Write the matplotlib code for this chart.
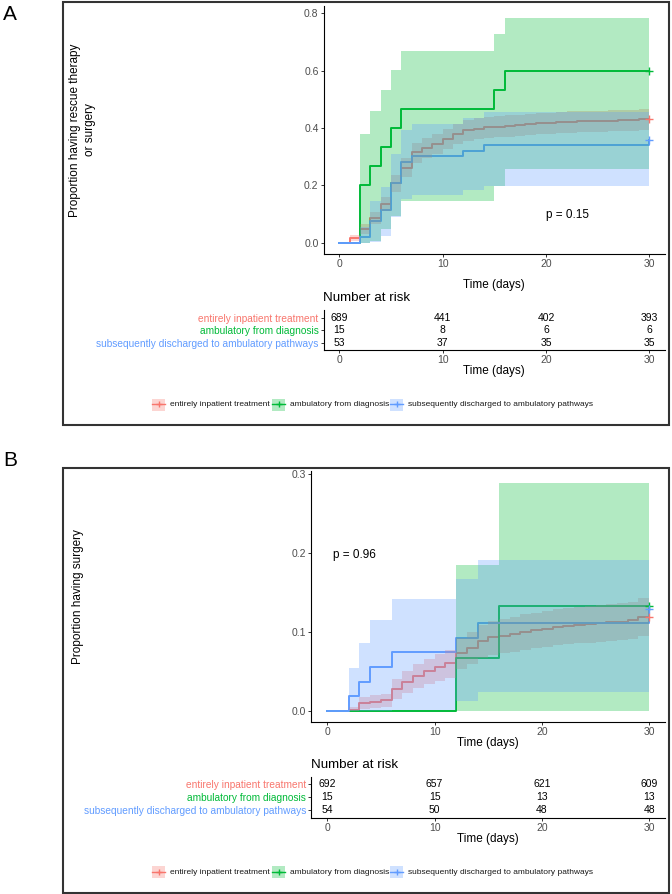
import matplotlib
matplotlib.use('Agg')
import matplotlib.pyplot as plt
from matplotlib.patches import Rectangle
from matplotlib.lines import Line2D

plt.rcParams['font.family'] = ['Liberation Sans', 'DejaVu Sans']

# ---------------- data ----------------
GROUPS = ['entirely inpatient treatment', 'ambulatory from diagnosis',
          'subsequently discharged to ambulatory pathways']
COLORS = ['#F8766D', '#00BA38', '#619CFF']
RISK_TIMES = [0, 10, 20, 30]

# Panel A: rescue therapy or surgery (cumulative incidence, lower CI, upper CI)
A_red_t = [0, 1, 2, 3, 4, 5, 6, 7, 8, 9, 10, 11, 12, 13, 14, 15, 16, 17, 18, 19,
           20, 21, 22, 23, 24, 25, 26, 27, 28, 29]
A_red_v = [0, 0.017, 0.048, 0.085, 0.135, 0.208, 0.262, 0.315, 0.330, 0.345,
           0.362, 0.380, 0.392, 0.398, 0.402, 0.405, 0.408, 0.410, 0.413, 0.416,
           0.418, 0.420, 0.422, 0.423, 0.424, 0.425, 0.426, 0.427, 0.428, 0.430]
A_red_lo = [0, 0.0073, 0.0319, 0.0639, 0.1091, 0.1771, 0.2284, 0.2794, 0.2940, 0.3085,
            0.3251, 0.3427, 0.3544, 0.3603, 0.3642, 0.3672, 0.3701, 0.3721, 0.3751, 0.3780,
            0.3800, 0.3820, 0.3839, 0.3849, 0.3859, 0.3869, 0.3879, 0.3889, 0.3899, 0.3918]
A_red_hi = [0, 0.0266, 0.0638, 0.1056, 0.1602, 0.2377, 0.2941, 0.3488, 0.3642, 0.3796,
            0.3969, 0.4152, 0.4274, 0.4335, 0.4375, 0.4405, 0.4436, 0.4456, 0.4486, 0.4517,
            0.4537, 0.4557, 0.4577, 0.4587, 0.4597, 0.4607, 0.4617, 0.4627, 0.4637, 0.4658]

A_green_t = [0, 2, 3, 4, 5, 6, 15, 16]
A_green_v = [0, 0.200, 0.267, 0.333, 0.400, 0.467, 0.533, 0.600]
A_green_lo = [0, 0, 0.005, 0.047, 0.093, 0.144, 0.198, 0.257]
A_green_hi = [0, 0.379, 0.460, 0.534, 0.603, 0.668, 0.728, 0.785]

A_blue_t = [0, 2, 3, 4, 5, 6, 7, 12, 14, 30]
A_blue_v = [0, 0.019, 0.075, 0.113, 0.208, 0.283, 0.302, 0.321, 0.340, 0.358]
A_blue_lo = [0, 0, 0.0015, 0.0237, 0.0905, 0.1509, 0.1667, 0.1827, 0.1990, 0.2155]
A_blue_hi = [0, 0.0548, 0.1439, 0.1946, 0.3095, 0.3946, 0.4152, 0.4355, 0.4556, 0.4754]

A_risk_red = [689, 441, 402, 393]
A_risk_green = [15, 8, 6, 6]
A_risk_blue = [53, 37, 35, 35]

# Panel B: surgery
B_red_t = [0, 2, 3, 4, 5, 6, 7, 8, 9, 10, 11, 12, 13, 14, 15, 16, 17, 18, 19,
           20, 21, 22, 23, 24, 25, 26, 27, 28, 29]
B_red_v = [0, 0.0015, 0.0100, 0.0115, 0.0130, 0.0275, 0.0360, 0.0440, 0.0500, 0.0550,
           0.0600, 0.0730, 0.0800, 0.0880, 0.0930, 0.0950, 0.0970, 0.1000, 0.1020, 0.1040,
           0.1060, 0.1080, 0.1090, 0.1100, 0.1110, 0.1120, 0.1130, 0.1150, 0.1190]
B_red_lo = [0, 0, 0.0026, 0.0035, 0.0045, 0.0152, 0.0220, 0.0286, 0.0336, 0.0379,
            0.0421, 0.0534, 0.0596, 0.0666, 0.0711, 0.0729, 0.0747, 0.0774, 0.0792, 0.0810,
            0.0828, 0.0846, 0.0855, 0.0864, 0.0873, 0.0882, 0.0891, 0.0909, 0.0945]
B_red_hi = [0, 0.0044, 0.0174, 0.0194, 0.0214, 0.0396, 0.0498, 0.0592, 0.0661, 0.0718,
            0.0775, 0.0922, 0.1000, 0.1089, 0.1144, 0.1166, 0.1188, 0.1221, 0.1243, 0.1265,
            0.1287, 0.1308, 0.1319, 0.1330, 0.1341, 0.1352, 0.1363, 0.1385, 0.1428]

B_green_t = [0, 12, 16]
B_green_v = [0, 0.0667, 0.1333]
B_green_lo = [0, 0, 0]
B_green_hi = [0, 0.1847, 0.2894]

B_blue_t = [0, 2, 3, 4, 6, 12, 14, 30]
B_blue_v = [0, 0.0185, 0.0370, 0.0556, 0.0741, 0.0926, 0.1111, 0.1296]
B_blue_lo = [0, 0, 0, 0, 0.0015, 0.0119, 0.0232, 0.0353]
B_blue_hi = [0, 0.0538, 0.0861, 0.1147, 0.1414, 0.1667, 0.1911, 0.2148]

B_risk_red = [692, 657, 621, 609]
B_risk_green = [15, 15, 13, 13]
B_risk_blue = [54, 50, 48, 48]

A_ylabel = 'Proportion having rescue therapy\nor surgery'
B_ylabel = 'Proportion having surgery'
A_yticks = [0.0, 0.2, 0.4, 0.6, 0.8]
B_yticks = [0.0, 0.1, 0.2, 0.3]
A_pval = 'p = 0.15'
B_pval = 'p = 0.96'

# ---------------- layout helpers ----------------
W, H = 672, 894
fig = plt.figure(figsize=(W / 100, H / 100), dpi=100)


def fx(x):
    return x / W


def fy(y):
    return 1 - y / H


def add_axes(l, r, t, b):
    return fig.add_axes([fx(l), fy(b), (r - l) / W, (b - t) / H])


TICK_COL = '#333333'
LAB_COL = '#4D4D4D'


def style_axes(ax):
    for s in ['top', 'right']:
        ax.spines[s].set_visible(False)
    for s in ['left', 'bottom']:
        ax.spines[s].set_linewidth(0.8)
        ax.spines[s].set_color('black')
    ax.tick_params(length=2.3, width=0.7, color=TICK_COL, labelsize=7.5,
                   labelcolor=LAB_COL, pad=1.5)
    ax.set_xlim(-1.5, 31.5)
    ax.set_xticks(RISK_TIMES)
    ax.patch.set_alpha(0)


def draw_main(ax, curves, ylim, yticks, pval, pxy, pha):
    style_axes(ax)
    for (t, v, lo, hi), c in zip(curves, COLORS):
        te = list(t) + [30]
        ax.step(te, list(v) + [v[-1]], where='post', color=c, lw=1.4, zorder=2)
    for (t, v, lo, hi), c in zip(curves, COLORS):
        ax.plot([30], [v[-1]], marker='+', color=c, ms=6, mew=1.0, zorder=4)
    for (t, v, lo, hi), c in zip(curves, COLORS):
        te = list(t) + [30]
        ax.fill_between(te, list(lo) + [lo[-1]], list(hi) + [hi[-1]], step='post',
                        color=c, alpha=0.3, lw=0, zorder=3)
    ax.set_ylim(*ylim)
    ax.set_yticks(yticks)
    ax.set_yticklabels([f'{y:.1f}' for y in yticks])
    ax.text(pxy[0], pxy[1], pval, fontsize=8.5, ha=pha, va='center', color='black')


def draw_table(ax, counts):
    style_axes(ax)
    ax.set_ylim(0.4, 3.6)
    for i, row in enumerate(counts):
        for tt, n in zip(RISK_TIMES, row):
            ax.text(tt, 3 - i, str(n), ha='center', va='center', fontsize=7.5,
                    color='black')
    ax.set_yticks([3, 2, 1])
    ax.set_yticklabels(GROUPS, fontsize=7.3)
    for lab, c in zip(ax.get_yticklabels(), COLORS):
        lab.set_color(c)


def draw_legend(y):
    xs = [152, 272, 390]
    for x, c, g in zip(xs, COLORS, GROUPS):
        fig.patches.append(Rectangle((fx(x), fy(y + 6)), 13 / W, 12 / H,
                                     transform=fig.transFigure, facecolor=c,
                                     alpha=0.3, lw=0))
        fig.lines.append(Line2D([fx(x), fx(x + 13)], [fy(y), fy(y)],
                                transform=fig.transFigure, color=c, lw=1.0))
        fig.lines.append(Line2D([fx(x + 6.5)], [fy(y)], transform=fig.transFigure,
                                color=c, marker='+', ms=5, mew=1.0))
        fig.text(fx(x + 18), fy(y), g, fontsize=6, ha='left', va='center',
                 color='#1a1a1a')


def frame(t, b):
    fig.patches.append(Rectangle((fx(63), fy(b)), (669 - 63) / W, (b - t) / H,
                                 transform=fig.transFigure, fill=False,
                                 edgecolor='#333333', lw=1.5))


# ---------------- Panel A ----------------
frame(2, 425)
fig.text(fx(3), fy(15), 'A', fontsize=15, ha='left', va='center')
axA = add_axes(323.8, 664.8, 6.35, 253.95)
draw_main(axA,
          [(A_red_t, A_red_v, A_red_lo, A_red_hi),
           (A_green_t, A_green_v, A_green_lo, A_green_hi),
           (A_blue_t, A_blue_v, A_blue_lo, A_blue_hi)],
          (-0.03925, 0.82425), A_yticks, A_pval, (22.06, 0.097), 'center')
fig.text(fx(494.3), fy(285), 'Time (days)', fontsize=8.5, ha='center', va='center')
fig.text(fx(82.5), fy(130), A_ylabel, fontsize=8.5, ha='center', va='center',
         rotation=90, multialignment='center', linespacing=1.25)

tA = add_axes(323.8, 664.8, 310.2, 350.2)
draw_table(tA, [A_risk_red, A_risk_green, A_risk_blue])
fig.text(fx(323), fy(298.3), 'Number at risk', fontsize=9.6, ha='left', va='center')
fig.text(fx(494.3), fy(370.7), 'Time (days)', fontsize=8.5, ha='center', va='center')
draw_legend(404.5)

# ---------------- Panel B ----------------
frame(468, 893)
fig.text(fx(3), fy(460), 'B', fontsize=15, ha='left', va='center')
axB = add_axes(311.2, 665.3, 471.2, 722.1)
draw_main(axB,
          [(B_red_t, B_red_v, B_red_lo, B_red_hi),
           (B_green_t, B_green_v, B_green_lo, B_green_hi),
           (B_blue_t, B_blue_v, B_blue_lo, B_blue_hi)],
          (-0.01447, 0.30387), B_yticks, B_pval, (0.56, 0.1976), 'left')
fig.text(fx(488.3), fy(743.3), 'Time (days)', fontsize=8.5, ha='center', va='center')
fig.text(fx(78.3), fy(597), B_ylabel, fontsize=8.5, ha='center', va='center',
         rotation=90)

tB = add_axes(311.2, 665.3, 776.5, 817.5)
draw_table(tB, [B_risk_red, B_risk_green, B_risk_blue])
fig.text(fx(311), fy(765), 'Number at risk', fontsize=9.6, ha='left', va='center')
fig.text(fx(488.3), fy(839.3), 'Time (days)', fontsize=8.5, ha='center', va='center')
draw_legend(872)

fig.savefig('out.png', dpi=100)
